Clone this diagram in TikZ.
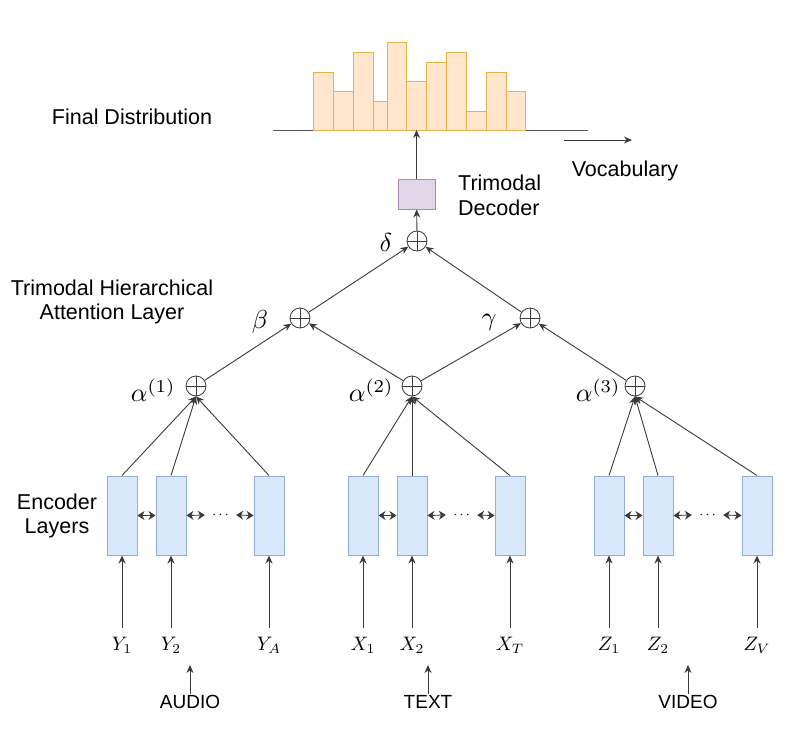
\documentclass[tikz,border=0pt]{standalone}
\usepackage{fontspec}
\setmainfont{Liberation Sans}
\usetikzlibrary{arrows.meta,calc}
\definecolor{encfill}{HTML}{DAE8FC}
\definecolor{encdraw}{HTML}{8FAFDA}
\definecolor{decfill}{HTML}{E1D5E7}
\definecolor{decdraw}{HTML}{A58AB8}
\definecolor{barfill}{HTML}{FFE6CC}
\definecolor{bardraw}{HTML}{E6B24A}
\definecolor{linec}{HTML}{3A3A3A}
\begin{document}
\begin{tikzpicture}[x=1pt,y=-1pt,
  lbl/.style={font=\fontsize{21.5}{24.5}\selectfont, inner sep=0pt},
  enc/.style={draw=encdraw, fill=encfill, line width=1pt, minimum width=30pt, minimum height=79pt, inner sep=0pt},
  dec/.style={draw=decdraw, fill=decfill, line width=1pt, minimum width=37pt, minimum height=30pt, inner sep=0pt},
  oplus/.style={circle, draw=linec, line width=0.8pt, minimum size=20pt, inner sep=0pt,
    path picture={\draw[linec, line width=0.8pt] (path picture bounding box.north) -- (path picture bounding box.south) (path picture bounding box.west) -- (path picture bounding box.east);}},
  arr/.style={draw=linec, line width=0.9pt, -{Stealth[length=8pt,width=7pt]}},
  biarr/.style={draw=linec, line width=0.9pt, {Stealth[length=7pt,width=9pt]}-{Stealth[length=7pt,width=9pt]}},
  greek/.style={font=\fontsize{10}{12}\selectfont, scale=2.6, inner sep=0pt},
  inp/.style={font=\fontsize{10}{12}\selectfont, scale=1.95, inner sep=0pt},
  mod/.style={font=\fontsize{19}{22}\selectfont, inner sep=1pt},
  bar/.style={draw=bardraw, fill=barfill, line width=1pt},
  baseln/.style={draw=linec!85, line width=0.9pt},
  dots/.style={font=\fontsize{10}{12}\selectfont, scale=1.4, inner ysep=0pt, inner xsep=5pt, minimum width=22pt},
]
\useasboundingbox (0,0) rectangle (800,728);

% histogram
\coordinate (bl) at (273,130);
\coordinate (br) at (588,130);
\draw[baseln] (bl) -- (br);
\foreach \xa/\xb/\yt in {313/333/72, 333/353/91, 353/373/52, 373/387/101, 387/406/42, 406/426/81, 426/446/62, 446/466/52, 466/486/111, 486/506/72, 506/525/91}
  \draw[bar] (\xa,130) rectangle (\xb,\yt);
\coordinate (va) at (564,140);
\coordinate (vb) at (632,140);
\draw[arr] (va) -- (vb);
\node[lbl] (voc) at (625,171) {Vocabulary};
\node[lbl] (fd) at (132,117) {Final Distribution};

% decoder
\node[dec] (dec) at (416.5,194) {};
\coordinate (hb) at (416.5,130);
\draw[arr] (dec.north) -- (hb);
\node[lbl, anchor=west, align=left] (dect) at (458,195.5) {Trimodal\\Decoder};

% attention circles
\node[oplus] (d) at (417,241) {};
\node[oplus] (b) at (300,318) {};
\node[oplus] (g) at (530,318) {};
\node[oplus] (al1) at (196,386) {};
\node[oplus] (al2) at (412,386) {};
\node[oplus] (al3) at (635,386) {};

\node[greek] (dl) at (386,242) {$\delta$};
\node[greek] (bll) at (260,322) {$\beta$};
\node[greek] (gl) at (489,322) {$\gamma$};
\node[greek, anchor=east] (a1l) at (176,390) {$\alpha^{(1)}$};
\node[greek, anchor=east] (a2l) at (394,390) {$\alpha^{(2)}$};
\node[greek, anchor=east] (a3l) at (621,390) {$\alpha^{(3)}$};

\node[lbl, align=center] (thal) at (112,302) {Trimodal Hierarchical\\Attention Layer};
\node[lbl, align=center] (encl) at (57,516) {Encoder\\Layers};

\draw[arr] (d) -- (dec);
\draw[arr] (b) -- (d);
\draw[arr] (g) -- (d);
\draw[arr] (al1) -- (b);
\draw[arr] (al2) -- (b);
\draw[arr] (al2) -- (g);
\draw[arr] (al3) -- (g);

% encoder boxes
\foreach \n/\x in {a1/122, a2/171, a3/269, t1/363, t2/412, t3/510, v1/609, v2/658, v3/757}
  \node[enc] (\n) at (\x,515.5) {};
\node[dots] (ad) at (220.5,515) {$\cdots$};
\node[dots] (td) at (461.5,515) {$\cdots$};
\node[dots] (vd) at (707.5,515) {$\cdots$};

\foreach \g in {a,t,v} {
  \draw[biarr] (\g1.east) -- (\g2.west);
  \draw[biarr] (\g2.east) -- (\g d.west);
  \draw[biarr] (\g d.east) -- (\g3.west);
}

\foreach \g/\k in {a/1,t/2,v/3} {
  \draw[arr] (\g1.north) -- (al\k.south);
  \draw[arr] (\g2.north) -- (al\k.south);
  \draw[arr] (\g3.north) -- (al\k.south);
}

% inputs
\node[inp] (ia1) at (122,645) {$Y_1$};
\node[inp] (ia2) at (171,645) {$Y_2$};
\node[inp] (ia3) at (269,645) {$Y_A$};
\node[inp] (it1) at (363,645) {$X_1$};
\node[inp] (it2) at (412,645) {$X_2$};
\node[inp] (it3) at (510,645) {$X_T$};
\node[inp] (iv1) at (609,645) {$Z_1$};
\node[inp] (iv2) at (658,645) {$Z_2$};
\node[inp] (iv3) at (757,645) {$Z_V$};
\foreach \n in {a1,a2,a3,t1,t2,t3,v1,v2,v3}
  \draw[arr, shorten <=8pt] (i\n.north) -- (\n.south);

% modalities
\node[mod] (audio) at (190,702) {AUDIO};
\node[mod] (text) at (428,702) {TEXT};
\node[mod] (video) at (688,702) {VIDEO};
\coordinate (ca) at (190,665);
\coordinate (ct) at (428,665);
\coordinate (cv) at (688,665);
\draw[arr] (audio.north) -- (ca);
\draw[arr] (text.north) -- (ct);
\draw[arr] (video.north) -- (cv);
\end{tikzpicture}
\end{document}
